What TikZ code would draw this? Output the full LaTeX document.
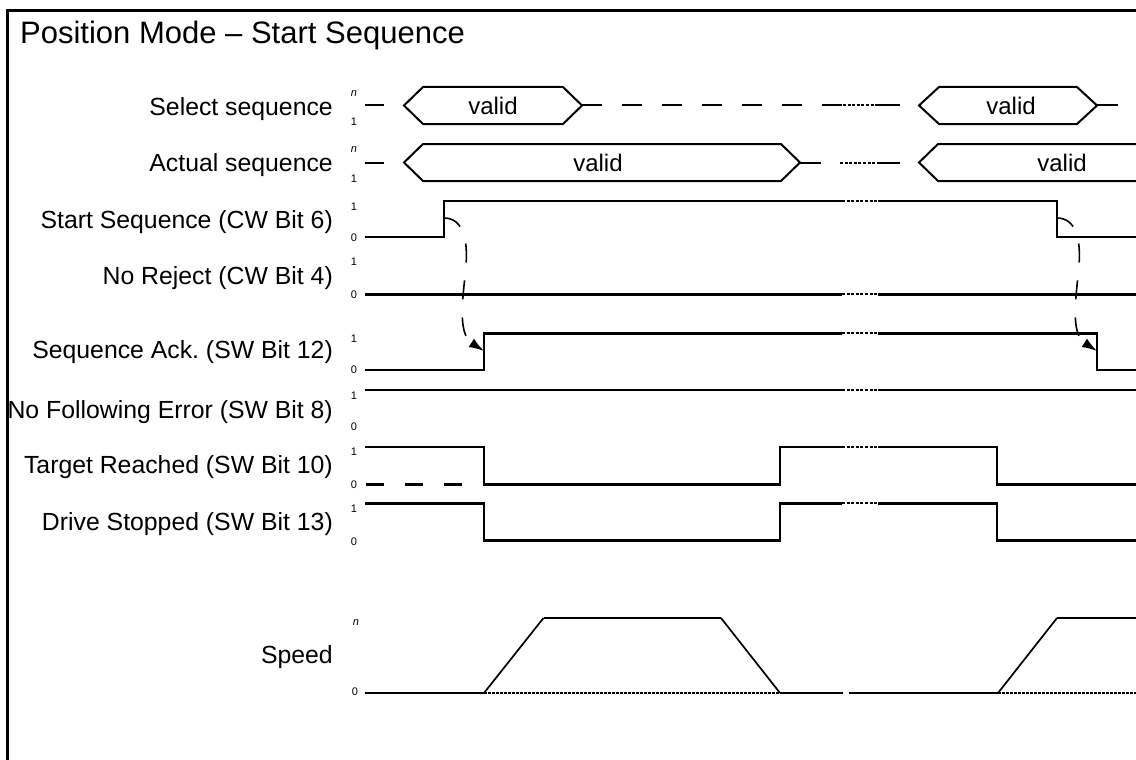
\documentclass[tikz,border=0pt]{standalone}
\usepackage{fontspec}
\setmainfont{Liberation Sans}
\usetikzlibrary{arrows.meta}
\newcommand\sigbreak[1]{%
  \draw[white, line width=4pt] (842,#1) -- (878,#1);
  \draw[brk] (842,#1) -- (878,#1);}
\begin{document}
\frenchspacing
\begin{tikzpicture}[x=1pt,y=-1pt,
  sig/.style={line width=2.4pt, line join=miter},
  bus/.style={line width=2pt, line join=miter},
  brk/.style={line width=2pt, dash pattern=on 3pt off 1.6pt},
  spd/.style={line width=2.4pt, line join=round},
  ramp/.style={line width=1.7pt},
  spddot/.style={line width=1.8pt, dash pattern=on 2.5pt off 1.5pt},
  lbl/.style={anchor=base east, inner sep=0pt, font=\fontsize{24.8}{28}\selectfont},
  tck/.style={anchor=base, inner sep=0pt, font=\fontsize{11}{12}\selectfont},
  val/.style={anchor=center, inner sep=0pt, font=\fontsize{24}{28}\selectfont},
  cause/.style={line width=1.6pt, dash pattern=on 19pt off 18pt, -{Latex[length=15pt,width=10pt]}},
]
\useasboundingbox (0,0) rectangle (1136,760);
\clip (0,0) rectangle (1136,760);
\fill[white] (0,0) rectangle (1136,760);
% frame
\draw[line width=2.7pt] (7.5,775) -- (7.5,10.3) -- (1145,10.3);
\node[anchor=base west, inner sep=0pt, font=\fontsize{31}{35}\selectfont] (title) at (20,43.3) {Position Mode – Start Sequence};

% labels
\node[lbl] (l1) at (333,115) {Select sequence};
\node[lbl] (l2) at (333,171.7) {Actual sequence};
\node[lbl] (l3) at (333,228.5) {Start Sequence (CW Bit 6)};
\node[lbl] (l4) at (333,284.5) {No Reject (CW Bit 4)};
\node[lbl] (l5) at (333,358.3) {Sequence Ack. (SW Bit 12)};
\node[lbl] (l6) at (333,418.3) {No Following Error (SW Bit 8)};
\node[lbl] (l7) at (333,473.3) {Target Reached (SW Bit 10)};
\node[lbl] (l8) at (333,530.5) {Drive Stopped (SW Bit 13)};
\node[lbl] (l9) at (333,663.3) {Speed};

% tick labels
\node[tck] (t1a) at (354,96.5) {\itshape n};
\node[tck] (t1b) at (354,125) {1};
\node[tck] (t2a) at (354,152.5) {\itshape n};
\node[tck] (t2b) at (354,182) {1};
\node[tck] (t3a) at (354,210) {1};
\node[tck] (t3b) at (354,241) {0};
\node[tck] (t4a) at (354,265.7) {1};
\node[tck] (t4b) at (354,298.3) {0};
\node[tck] (t5a) at (354,342.3) {1};
\node[tck] (t5b) at (354,373.3) {0};
\node[tck] (t6a) at (354,399) {1};
\node[tck] (t6b) at (354,430.7) {0};
\node[tck] (t7a) at (354,455.7) {1};
\node[tck] (t7b) at (354,488) {0};
\node[tck] (t8a) at (354,512.3) {1};
\node[tck] (t8b) at (354,545) {0};
\node[tck] (t9a) at (356,625) {\itshape n};
\node[tck] (t9b) at (355,695.7) {0};

% Select sequence bus
\draw[bus] (365,105.5) -- (384,105.5);
\draw[bus] (404,105.5) -- (423,87) -- (563,87) -- (582,105.5) -- (563,124) -- (423,124) -- cycle;
\node[val] (v1) at (493,105.5) {valid};
\draw[bus] (582,105.5) -- (602,105.5);
\draw[bus, dash pattern=on 20pt off 20pt] (622,105.5) -- (843,105.5);
\draw[brk] (843,105.5) -- (878,105.5);
\draw[bus] (878,105.5) -- (900,105.5);
\draw[bus] (919,105.5) -- (939,87) -- (1077,87) -- (1097,105.5) -- (1077,124) -- (939,124) -- cycle;
\node[val] (v2) at (1011,105.5) {valid};
\draw[bus] (1097,105.5) -- (1118,105.5);

% Actual sequence bus
\draw[bus] (365,162.5) -- (384,162.5);
\draw[bus] (404,162.5) -- (423,144) -- (781,144) -- (800,162.5) -- (781,181) -- (423,181) -- cycle;
\node[val] (v3) at (598,162.5) {valid};
\draw[bus] (800,162.5) -- (821,162.5);
\draw[brk] (840,162.5) -- (878,162.5);
\draw[bus] (878,162.5) -- (900,162.5);
\draw[bus] (1145,144) -- (938,144) -- (919,162.5) -- (938,181) -- (1145,181);
\node[val] (v4) at (1062,162.5) {valid};

% Start Sequence
\draw[sig] (365,237) -- (444,237) -- (444,200.7) -- (1057,200.7) -- (1057,237) -- (1145,237);
\sigbreak{200.7}
% No Reject
\draw[sig] (365,294.3) -- (1145,294.3);
\sigbreak{294.3}
% Sequence Ack
\draw[sig] (365,370) -- (484,370) -- (484,333.3) -- (1097,333.3) -- (1097,370) -- (1145,370);
\sigbreak{333.3}
% No Following Error
\draw[sig] (365,390) -- (1145,390);
\sigbreak{390}
% Target Reached
\draw[sig] (365,446.7) -- (484,446.7) -- (484,484.3) -- (780,484.3) -- (780,446.7) -- (997,446.7) -- (997,484.3) -- (1145,484.3);
\draw[sig, dash pattern=on 18pt off 21pt] (366,484.3) -- (470,484.3);
\sigbreak{446.7}
% Drive Stopped
\draw[sig] (365,503.3) -- (484,503.3) -- (484,540.5) -- (780,540.5) -- (780,503.3) -- (997,503.3) -- (997,540.5) -- (1145,540.5);
\sigbreak{503.3}

% Speed
\draw[spddot] (484,693) -- (780,693);
\draw[spddot] (998,693) -- (1145,693);
\draw[spd] (365,693) -- (484,693);
\draw[ramp] (484,693) -- (543.5,618);
\draw[spd] (543.5,618) -- (721,618);
\draw[ramp] (721,618) -- (780,693);
\draw[spd] (780,693) -- (998,693);
\draw[ramp] (998,693) -- (1057,618);
\draw[spd] (1057,618) -- (1145,618);
\draw[white, line width=3pt] (843,693) -- (849,693);

% cause arrows
\coordinate (c1s) at (444,218);
\coordinate (c1e) at (484,351);
\coordinate (c2s) at (1057,218);
\coordinate (c2e) at (1097,351);
\draw[cause] (c1s) .. controls (463,218) and (468,240) .. (466,265) .. controls (464,292) and (456,333) .. (c1e);
\draw[cause] (c2s) .. controls (1076,218) and (1081,240) .. (1079,265) .. controls (1077,292) and (1069,333) .. (c2e);
\end{tikzpicture}
\end{document}
